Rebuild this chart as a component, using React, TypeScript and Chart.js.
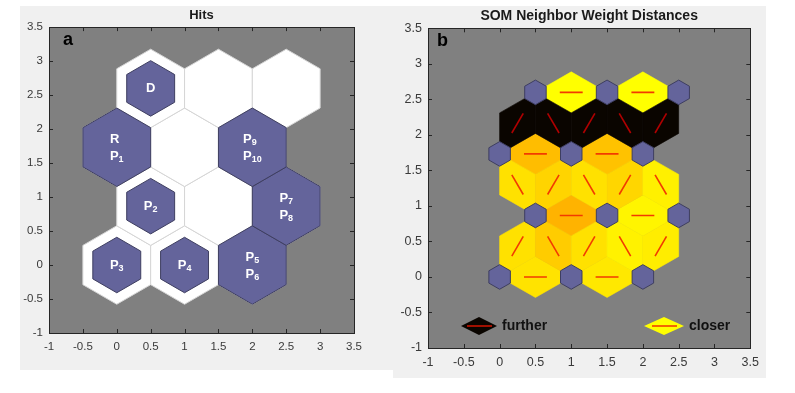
import React, { useEffect, useRef } from "react";
import { Chart, registerables } from "chart.js";

Chart.register(...registerables);

// ---------- data ----------
const axisMin = -1;
const axisMax = 3.5;
const axisStep = 0.5;

// neuron positions of the 3x4 hexagonal SOM grid
const neuronX = [0, 1, 2, 0.5, 1.5, 2.5, 0, 1, 2, 0.5, 1.5, 2.5];
const neuronY = [0, 0, 0, 0.866, 0.866, 0.866, 1.732, 1.732, 1.732, 2.598, 2.598, 2.598];

// panel a: hits per neuron and sample labels
const hitCounts = [1, 1, 2, 1, 0, 2, 2, 0, 2, 1, 0, 0];
const hitLabels: string[][] = [
  ["P3"], ["P4"], ["P5", "P6"],
  ["P2"], [], ["P7", "P8"],
  ["R", "P1"], [], ["P9", "P10"],
  ["D"], [], [],
];

// panel b: neighbour connections and normalised weight distance (0 = closer, 1 = further)
const edgeFrom = [0, 1, 3, 4, 6, 7, 9, 10, 0, 3, 1, 4, 2, 6, 3, 7, 4, 8, 6, 9, 7, 10, 8];
const edgeTo = [1, 2, 4, 5, 7, 8, 10, 11, 3, 1, 4, 2, 5, 3, 7, 4, 8, 5, 9, 7, 10, 8, 11];
const edgeDist = [0.11, 0.09, 0.3, 0.04, 0.26, 0.24, 0, 0, 0.12, 0.2, 0.12, 0.05, 0.07, 0.12, 0.17, 0.12, 0.16, 0.06, 0.98, 0.98, 0.98, 0.98, 0.98];

const legendLabels = ["further", "closer"];
const legendDist = [0.98, 0];

const titles = ["Hits", "SOM Neighbor Weight Distances"];
const panelLetters = ["a", "b"];

// ---------- styles ----------
const FONT = '"Liberation Sans", Arial, Helvetica, sans-serif';
const PLOT_BG = "#808080";
const PURPLE = "#64649b";
const PURPLE_EDGE = "#3e3e60";

function distColor(d: number): string {
  const stops = [
    [0, 255, 255, 0],
    [0.5, 255, 128, 0],
    [1, 0, 0, 0],
  ];
  for (let i = 0; i < stops.length - 1; i++) {
    const a = stops[i], b = stops[i + 1];
    if (d <= b[0]) {
      const t = (d - a[0]) / (b[0] - a[0]);
      const c = [1, 2, 3].map((k) => Math.round(a[k] + (b[k] - a[k]) * t));
      return `rgb(${c[0]},${c[1]},${c[2]})`;
    }
  }
  return "rgb(0,0,0)";
}

function toPx(chart: any, x: number, y: number): [number, number] {
  return [chart.scales.x.getPixelForValue(x), chart.scales.y.getPixelForValue(y)];
}

function poly(ctx: CanvasRenderingContext2D, pts: [number, number][], fill: string, stroke: string, lw: number) {
  ctx.beginPath();
  pts.forEach((p, i) => (i === 0 ? ctx.moveTo(p[0], p[1]) : ctx.lineTo(p[0], p[1])));
  ctx.closePath();
  ctx.fillStyle = fill;
  ctx.fill();
  if (lw > 0) {
    ctx.strokeStyle = stroke;
    ctx.lineWidth = lw;
    ctx.stroke();
  }
}

function hexData(cx: number, cy: number, r: number): [number, number][] {
  const pts: [number, number][] = [];
  for (let k = 0; k < 6; k++) {
    const a = Math.PI / 2 + (k * Math.PI) / 3;
    pts.push([cx + r * Math.cos(a), cy + r * Math.sin(a)]);
  }
  return pts;
}

function drawSubText(ctx: CanvasRenderingContext2D, text: string, x: number, y: number, measureOnly: boolean): number {
  const segs = text.match(/[^0-9]+|[0-9]+/g) || [];
  let cx = x;
  for (const s of segs) {
    const isDigit = /[0-9]/.test(s[0]);
    ctx.font = isDigit ? `bold 9px ${FONT}` : `bold 13px ${FONT}`;
    if (!measureOnly) ctx.fillText(s, cx, isDigit ? y + 3 : y);
    cx += ctx.measureText(s).width;
  }
  return cx - x;
}

function drawAxesBox(chart: any) {
  const { ctx, chartArea: a } = chart;
  ctx.save();
  ctx.strokeStyle = "#262626";
  ctx.lineWidth = 1;
  ctx.strokeRect(Math.round(a.left) + 0.5, Math.round(a.top) + 0.5, Math.round(a.right - a.left), Math.round(a.bottom - a.top));
  const tl = 4;
  chart.scales.x.ticks.forEach((t: any) => {
    const p = Math.round(chart.scales.x.getPixelForValue(t.value)) + 0.5;
    ctx.beginPath();
    ctx.moveTo(p, a.bottom);
    ctx.lineTo(p, a.bottom - tl);
    ctx.moveTo(p, a.top);
    ctx.lineTo(p, a.top + tl);
    ctx.stroke();
  });
  chart.scales.y.ticks.forEach((t: any) => {
    const p = Math.round(chart.scales.y.getPixelForValue(t.value)) + 0.5;
    ctx.beginPath();
    ctx.moveTo(a.left, p);
    ctx.lineTo(a.left + tl, p);
    ctx.moveTo(a.right, p);
    ctx.lineTo(a.right - tl, p);
    ctx.stroke();
  });
  ctx.restore();
}

function drawLetter(chart: any, letter: string, dx: number, dy: number) {
  const { ctx, chartArea: a } = chart;
  ctx.save();
  ctx.fillStyle = "#000";
  ctx.font = `bold 18px ${FONT}`;
  ctx.textBaseline = "alphabetic";
  ctx.textAlign = "left";
  ctx.fillText(letter, a.left + dx, a.top + dy);
  ctx.restore();
}

const bgPlugin = {
  id: "plotBg",
  beforeDatasetsDraw(chart: any) {
    const { ctx, chartArea: a } = chart;
    ctx.save();
    ctx.fillStyle = PLOT_BG;
    ctx.fillRect(a.left, a.top, a.right - a.left, a.bottom - a.top);
    ctx.restore();
  },
};

const hitsPlugin = {
  id: "hitsHex",
  afterDatasetsDraw(chart: any) {
    const { ctx, chartArea: a } = chart;
    ctx.save();
    ctx.beginPath();
    ctx.rect(a.left, a.top, a.right - a.left, a.bottom - a.top);
    ctx.clip();
    const R = 1 / Math.sqrt(3);
    const maxHits = Math.max(...hitCounts);
    // white neuron cells
    neuronX.forEach((x, i) => {
      const pts = hexData(x, neuronY[i], R).map((p) => toPx(chart, p[0], p[1]));
      poly(ctx, pts, "#ffffff", "#d6d6d6", 1);
    });
    // hit hexagons
    neuronX.forEach((x, i) => {
      if (hitCounts[i] <= 0) return;
      const r = R * Math.sqrt(hitCounts[i] / maxHits);
      const pts = hexData(x, neuronY[i], r).map((p) => toPx(chart, p[0], p[1]));
      poly(ctx, pts, PURPLE, PURPLE_EDGE, 1);
    });
    // labels
    ctx.fillStyle = "#ffffff";
    ctx.textAlign = "left";
    ctx.textBaseline = "middle";
    neuronX.forEach((x, i) => {
      const lines = hitLabels[i];
      if (!lines.length) return;
      const [cx, cy] = toPx(chart, x, neuronY[i]);
      const widths = lines.map((l) => drawSubText(ctx, l, 0, 0, true));
      const maxW = Math.max(...widths);
      const offs = lines.length === 1 ? [0] : [-8, 9];
      lines.forEach((l, k) => drawSubText(ctx, l, cx - maxW / 2, cy + offs[k], false));
    });
    ctx.restore();
  },
  afterDraw(chart: any) {
    drawAxesBox(chart);
    drawLetter(chart, panelLetters[0], 14, 18);
  },
};

function edgeGeom(i: number, j: number) {
  const x1 = neuronX[i], y1 = neuronY[i], x2 = neuronX[j], y2 = neuronY[j];
  const dx = x2 - x1, dy = y2 - y1;
  const len = Math.hypot(dx, dy);
  const h = len / (2 * Math.sqrt(3));
  const px = (-dy / len) * h, py = (dx / len) * h;
  const mx = (x1 + x2) / 2, my = (y1 + y2) / 2;
  const rhomb: [number, number][] = [
    [x1, y1],
    [mx + px, my + py],
    [x2, y2],
    [mx - px, my - py],
  ];
  const line: [number, number][] = [
    [x1 + dx * 0.34, y1 + dy * 0.34],
    [x1 + dx * 0.66, y1 + dy * 0.66],
  ];
  return { rhomb, line };
}

function lineColor(d: number) {
  return d > 0.5 ? "#b00000" : "#f23a00";
}

const ndPlugin = {
  id: "neighborDist",
  afterDatasetsDraw(chart: any) {
    const { ctx, chartArea: a } = chart;
    ctx.save();
    ctx.beginPath();
    ctx.rect(a.left, a.top, a.right - a.left, a.bottom - a.top);
    ctx.clip();
    edgeFrom.forEach((i, k) => {
      const g = edgeGeom(i, edgeTo[k]);
      const c = distColor(edgeDist[k]);
      poly(ctx, g.rhomb.map((p) => toPx(chart, p[0], p[1])), c, c, 0.6);
    });
    edgeFrom.forEach((i, k) => {
      const g = edgeGeom(i, edgeTo[k]);
      const [p1, p2] = g.line.map((p) => toPx(chart, p[0], p[1]));
      ctx.beginPath();
      ctx.moveTo(p1[0], p1[1]);
      ctx.lineTo(p2[0], p2[1]);
      ctx.strokeStyle = lineColor(edgeDist[k]);
      ctx.lineWidth = 1.6;
      ctx.stroke();
    });
    const r = 0.3 / Math.sqrt(3);
    neuronX.forEach((x, i) => {
      const pts = hexData(x, neuronY[i], r).map((p) => toPx(chart, p[0], p[1]));
      poly(ctx, pts, PURPLE, PURPLE_EDGE, 1);
    });
    ctx.restore();
  },
  afterDraw(chart: any) {
    const { ctx, chartArea: a } = chart;
    drawAxesBox(chart);
    drawLetter(chart, panelLetters[1], 9, 18);
    // legend
    const items = [
      { cx: a.left + 51, hw: 18 },
      { cx: a.left + 236, hw: 20 },
    ];
    const cy = a.bottom - 22;
    ctx.save();
    legendLabels.forEach((lab, k) => {
      const { cx, hw } = items[k];
      const c = distColor(legendDist[k]);
      poly(ctx, [[cx - hw, cy], [cx, cy - 9], [cx + hw, cy], [cx, cy + 9]], c, c, 0);
      ctx.beginPath();
      ctx.moveTo(cx - 12, cy);
      ctx.lineTo(cx + 13, cy);
      ctx.strokeStyle = legendDist[k] > 0.5 ? "#c81400" : "#f24000";
      ctx.lineWidth = 1.6;
      ctx.stroke();
      ctx.fillStyle = "#111111";
      ctx.font = `bold 14px ${FONT}`;
      ctx.textAlign = "left";
      ctx.textBaseline = "middle";
      ctx.fillText(lab, cx + hw + 5, cy);
    });
    ctx.restore();
  },
};

function fmtTick(v: any) {
  return String(Math.round(Number(v) * 10) / 10);
}

function makeConfig(opts: {
  title: string;
  titleSize: number;
  titlePad: { top: number; bottom: number };
  tickSize: number;
  yWidth: number;
  xHeight: number;
  padRight: number;
  xPad: number;
  yPad: number;
  plugin: any;
}) {
  const tickFont = { family: FONT, size: opts.tickSize };
  return {
    type: "scatter" as const,
    data: {
      datasets: [
        {
          data: neuronX.map((x, i) => ({ x, y: neuronY[i] })),
          pointRadius: 0,
          showLine: false,
        },
      ],
    },
    options: {
      animation: false as const,
      responsive: false,
      events: [],
      layout: { padding: { top: 0, left: 0, bottom: 0, right: opts.padRight } },
      plugins: {
        legend: { display: false },
        tooltip: { enabled: false },
        title: {
          display: true,
          text: opts.title,
          fullSize: false,
          color: "#1a1a1a",
          font: { family: FONT, size: opts.titleSize, weight: "bold" as const, lineHeight: 1.2 },
          padding: opts.titlePad,
        },
      },
      scales: {
        x: {
          type: "linear" as const,
          min: axisMin,
          max: axisMax,
          grid: { display: false, drawTicks: false },
          border: { display: false },
          ticks: { stepSize: axisStep, font: tickFont, color: "#3a3a3a", padding: opts.xPad, maxRotation: 0, autoSkip: false, callback: fmtTick },
          afterFit: (s: any) => {
            s.height = opts.xHeight;
          },
        },
        y: {
          type: "linear" as const,
          min: axisMin,
          max: axisMax,
          grid: { display: false, drawTicks: false },
          border: { display: false },
          ticks: { stepSize: axisStep, font: tickFont, color: "#3a3a3a", padding: opts.yPad, autoSkip: false, callback: fmtTick },
          afterFit: (s: any) => {
            s.width = opts.yWidth;
          },
        },
      },
    },
    plugins: [bgPlugin, opts.plugin],
  };
}

function Panel(props: { left: number; top: number; width: number; height: number; config: any }) {
  const ref = useRef<HTMLCanvasElement>(null);
  useEffect(() => {
    if (!ref.current) return;
    const chart = new Chart(ref.current, props.config);
    return () => chart.destroy();
  }, []);
  return (
    <canvas
      ref={ref}
      width={props.width}
      height={props.height}
      style={{
        position: "absolute",
        left: props.left,
        top: props.top,
        width: props.width,
        height: props.height,
        background: "#f0f0f0",
      }}
    />
  );
}

export default function App() {
  const leftCfg = makeConfig({
    title: titles[0],
    titleSize: 13,
    titlePad: { top: 1.5, bottom: 4 },
    tickSize: 11.5,
    yWidth: 29,
    xHeight: 37,
    padRight: 39,
    xPad: 7,
    yPad: 6,
    plugin: hitsPlugin,
  });
  const rightCfg = makeConfig({
    title: titles[1],
    titleSize: 14,
    titlePad: { top: 1.5, bottom: 4 },
    tickSize: 12.5,
    yWidth: 35,
    xHeight: 30,
    padRight: 10,
    xPad: 7,
    yPad: 6,
    plugin: ndPlugin,
  });
  return (
    <div style={{ position: "fixed", left: 0, top: 0, width: 795, height: 393, background: "#ffffff", overflow: "hidden" }}>
      <Panel left={20} top={6} width={373} height={364} config={leftCfg} />
      <Panel left={393} top={6} width={373} height={372} config={rightCfg} />
    </div>
  );
}
